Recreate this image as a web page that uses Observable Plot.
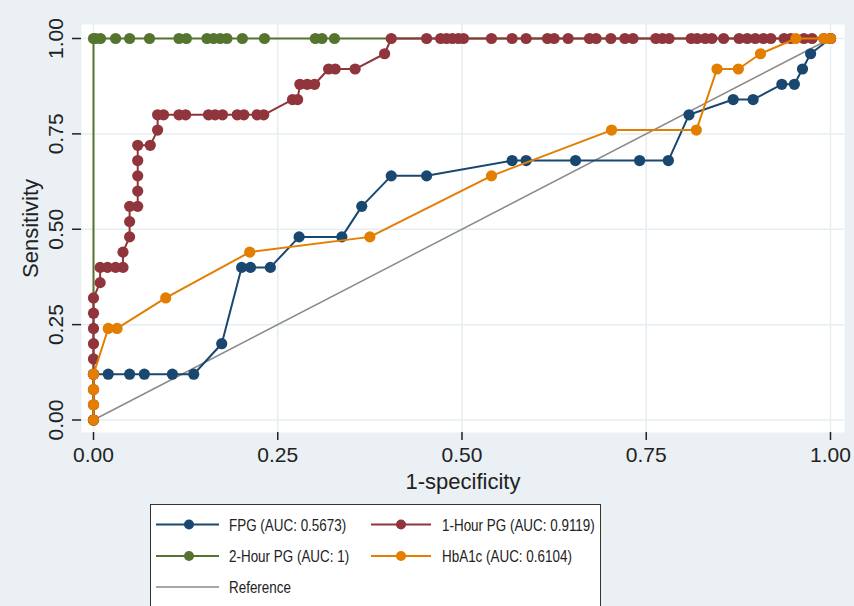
<!DOCTYPE html>
<html><head><meta charset="utf-8">
<script src="https://cdn.jsdelivr.net/npm/d3@7"></script>
<script src="https://cdn.jsdelivr.net/npm/@observablehq/plot@0.6"></script>
<style>
body{margin:0;background:#eaf0f3;width:854px;height:606px;overflow:hidden;position:relative;font-family:"Liberation Sans",Arial,sans-serif;}
#chart{position:absolute;left:0;top:0}
#legend{position:absolute;left:150px;top:504px;width:449px;height:110px;background:#fff;border:1.5px solid #333;}
</style></head><body>
<div id="chart"></div><div id="legend"></div>
<script>
// ---- data ----
const fpgFpr  = [0,0,0.02,0.049,0.069,0.107,0.136,0.174,0.201,0.213,0.240,0.279,0.337,0.364,0.404,0.452,0.568,0.587,0.654,0.741,0.780,0.808,0.868,0.895,0.934,0.951,0.962,0.973,1];
const fpgSens = [0,0.12,0.12,0.12,0.12,0.12,0.12,0.20,0.40,0.40,0.40,0.48,0.48,0.56,0.64,0.64,0.68,0.68,0.68,0.68,0.68,0.80,0.84,0.84,0.88,0.88,0.92,0.96,1];

const h1Fpr  = [0,0,0,0,0,0,0,0,0,0.009,0.009,0.019,0.03,0.04,0.04,0.049,0.049,0.049,0.06,0.06,0.06,0.06,0.06,0.077,0.087,0.087,0.095,0.116,0.125,0.156,0.165,0.175,0.195,0.204,0.222,0.231,0.270,0.277,0.280,0.290,0.300,0.319,0.328,0.355,0.395,
  0.404,0.452,0.471,0.479,0.487,0.495,0.502,0.540,0.568,0.587,0.616,0.625,0.644,0.673,0.682,0.702,0.721,0.732,0.763,0.772,0.781,0.811,0.819,0.830,0.839,0.855,0.876,0.887,0.898,0.909,0.919,0.937,0.946,0.964,0.975,0.991,1];
const h1Sens = [0,0.04,0.08,0.12,0.16,0.20,0.24,0.28,0.32,0.36,0.40,0.40,0.40,0.40,0.44,0.48,0.52,0.56,0.56,0.60,0.64,0.68,0.72,0.72,0.76,0.80,0.80,0.80,0.80,0.80,0.80,0.80,0.80,0.80,0.80,0.80,0.84,0.84,0.88,0.88,0.88,0.92,0.92,0.92,0.96,
  1,1,1,1,1,1,1,1,1,1,1,1,1,1,1,1,1,1,1,1,1,1,1,1,1,1,1,1,1,1,1,1,1,1,1,1,1];

const h2Fpr  = [0,0,0.003,0.0095,0.03,0.049,0.076,0.116,0.126,0.154,0.163,0.172,0.181,0.202,0.232,0.301,0.310,0.327,1];
const h2Sens = [0,1,1,1,1,1,1,1,1,1,1,1,1,1,1,1,1,1,1];

const hbFpr  = [0,0,0,0,0.02,0.032,0.098,0.212,0.375,0.54,0.703,0.818,0.846,0.875,0.905,0.953,0.991,1];
const hbSens = [0,0.04,0.08,0.12,0.24,0.24,0.32,0.44,0.48,0.64,0.76,0.76,0.92,0.92,0.96,1,1,1];

const refFpr  = [0,1];
const refSens = [0,1];

const seriesNames  = ["FPG (AUC: 0.5673)","1-Hour PG (AUC: 0.9119)","2-Hour PG (AUC: 1)","HbA1c (AUC: 0.6104)","Reference"];
const seriesColors = ["#1a476f","#90353b","#55752f","#e37e00","#8a8a8a"];
const axisTicks = [0,0.25,0.5,0.75,1];
const xTitle = "1-specificity";
const yTitle = "Sensitivity";

// ---- build tables ----
const rows = (xs, ys) => xs.map((x, i) => ({x, y: ys[i]}));
const fpg = rows(fpgFpr, fpgSens);
const h1 = rows(h1Fpr, h1Sens);
const h2 = rows(h2Fpr, h2Sens);
const hb = rows(hbFpr, hbSens);
const ref = rows(refFpr, refSens);
const fmt = d3.format(".2f");
const R = 5.6, LW = 2;
const gridColor = "#e6eef1";
const ink = "#222";

const chart = Plot.plot({
  width: 854, height: 500,
  marginLeft: 81, marginRight: 10, marginTop: 24, marginBottom: 68,
  style: "background: transparent; font-family: 'Liberation Sans', Arial, sans-serif; color: #222; overflow: visible;",
  x: {domain: [0, 1], insetLeft: 12, insetRight: 14},
  y: {domain: [0, 1], insetTop: 14, insetBottom: 12.5},
  marks: [
    Plot.frame({fill: "white", stroke: "none"}),
    Plot.gridX({ticks: axisTicks, stroke: gridColor, strokeOpacity: 1, strokeWidth: 1.5}),
    Plot.gridY({ticks: axisTicks, stroke: gridColor, strokeOpacity: 1, strokeWidth: 1.5}),
    Plot.line(ref, {x: "x", y: "y", stroke: seriesColors[4], strokeWidth: 1.5}),
    Plot.line(h2, {x: "x", y: "y", stroke: seriesColors[2], strokeWidth: LW}),
    Plot.dot(h2, {x: "x", y: "y", fill: seriesColors[2], r: R}),
    Plot.line(fpg, {x: "x", y: "y", stroke: seriesColors[0], strokeWidth: LW}),
    Plot.dot(fpg, {x: "x", y: "y", fill: seriesColors[0], r: R}),
    Plot.line(h1, {x: "x", y: "y", stroke: seriesColors[1], strokeWidth: LW}),
    Plot.dot(h1, {x: "x", y: "y", fill: seriesColors[1], r: R}),
    Plot.line(hb, {x: "x", y: "y", stroke: seriesColors[3], strokeWidth: LW}),
    Plot.dot(hb, {x: "x", y: "y", fill: seriesColors[3], r: R}),
    Plot.axisX({ticks: axisTicks, tickSize: 8, tickPadding: 7, tickFormat: fmt, fontSize: 21, line: true, label: null, color: ink, strokeWidth: 1.5}),
    Plot.axisY({ticks: axisTicks, tickSize: 9, tickFormat: () => "", line: true, label: null, color: ink, strokeWidth: 1.5}),
    Plot.text(axisTicks, {y: d => d, text: d => fmt(d), frameAnchor: "left", rotate: -90, dx: -19, lineAnchor: "bottom", textAnchor: "middle", fontSize: 21, fill: ink}),
    Plot.text([xTitle], {frameAnchor: "bottom", dy: 56, lineAnchor: "bottom", textAnchor: "middle", fontSize: 22, fill: ink}),
    Plot.text([yTitle], {frameAnchor: "left", rotate: -90, dx: -44, lineAnchor: "bottom", textAnchor: "middle", fontSize: 22, fill: ink})
  ]
});
document.getElementById("chart").appendChild(chart);

// ---- legend ----
const lg = d3.select("#legend").append("svg").attr("width", 449).attr("height", 110);
const colX = [{l0: 5, l1: 68, dot: 38, t: 78}, {l0: 220, l1: 280, dot: 250, t: 291}];
const rowY = [19.5, 51, 82];
seriesNames.forEach((name, i) => {
  const c = colX[i % 2], y = rowY[Math.floor(i / 2)];
  const g = lg.append("g");
  g.append("line").attr("x1", c.l0).attr("x2", c.l1).attr("y1", y).attr("y2", y)
    .attr("stroke", seriesColors[i]).attr("stroke-width", i === 4 ? 1.5 : 2);
  if (i < 4) g.append("circle").attr("cx", c.dot).attr("cy", y).attr("r", 5).attr("fill", seriesColors[i]);
  g.append("text").attr("transform", `translate(${c.t},${y + 6}) scale(0.84,1)`).text(name)
    .attr("font-size", 16).attr("fill", ink).attr("font-family", "'Liberation Sans', Arial, sans-serif");
});
</script>
</body></html>
